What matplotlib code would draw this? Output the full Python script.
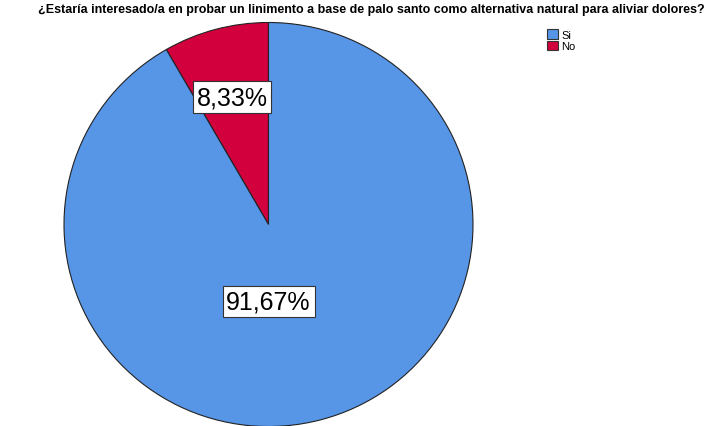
import matplotlib
matplotlib.use("Agg")
import matplotlib.pyplot as plt
from matplotlib.patches import Patch

categories = ["Si", "No"]
values = [91.67, 8.33]
labels = ["91,67%", "8,33%"]
colors = ["#5795E6", "#D2003C"]
title = "¿Estaría interesado/a en probar un linimento a base de palo santo como alternativa natural para aliviar dolores?"

W, H = 707, 427
fig = plt.figure(figsize=(W/100, H/100), dpi=100)
cx, cy, rx, ry = 268.5, 225.5, 204.5, 202
ax = fig.add_axes([(cx-rx)/W, (H-cy-ry)/H, 2*rx/W, 2*ry/H])
# draw "No" first counterclockwise from 90 deg
wedges, _ = ax.pie(values[::-1], colors=colors[::-1], startangle=90, counterclock=True,
                   wedgeprops=dict(edgecolor="#222222", linewidth=0.8), radius=1)
ax.set_xlim(-1, 1)
ax.set_ylim(-1, 1)
ax.set_aspect("auto")
ax.axis("off")

label_pos = {"No": (-0.178, 0.63), "Si": (0.0, -0.38)}
for cat, lab in zip(categories, labels):
    x, y = label_pos[cat]
    ax.text(x, y, lab, ha="center", va="center", fontsize=18, family="Liberation Sans",
            bbox=dict(boxstyle="square,pad=0.15", facecolor="white", edgecolor="#333333", linewidth=0.8))

fig.text(371/W, 1 - 10/H, title, ha="center", va="center", fontsize=9.0, fontweight="bold",
         family="Liberation Sans")

handles = [Patch(facecolor=c, edgecolor="#333333", linewidth=0.8) for c in colors]
fig.legend(handles, categories, loc="upper left", bbox_to_anchor=(547/W, 1 - 30/H),
           frameon=False, handlelength=1.0, handleheight=0.95,
           handletextpad=0.3, labelspacing=0.1, borderpad=0, borderaxespad=0,
           prop={"family": "Liberation Sans", "size": 8})

fig.savefig("out.png", dpi=100)
